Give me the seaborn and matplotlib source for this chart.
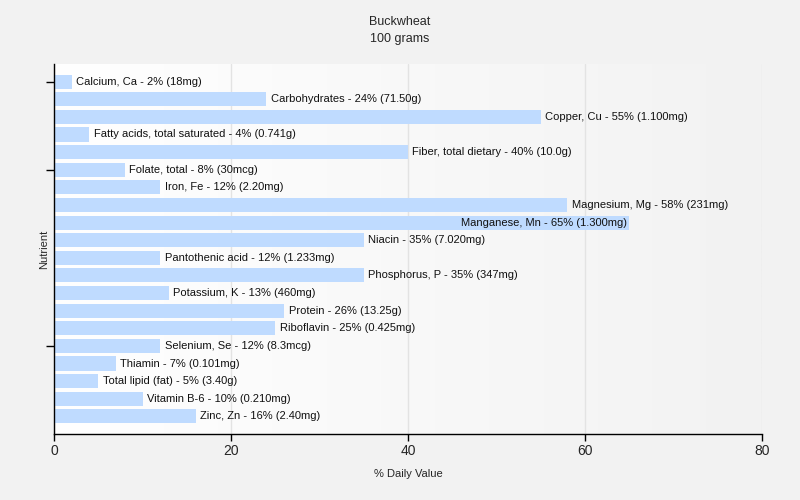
import numpy as np
import pandas as pd
import matplotlib
matplotlib.use("Agg")
import matplotlib.pyplot as plt
from matplotlib.colors import LinearSegmentedColormap
import seaborn as sns

TITLE = "Buckwheat\n100 grams"

nutrients = [
    "Calcium, Ca", "Carbohydrates", "Copper, Cu", "Fatty acids, total saturated",
    "Fiber, total dietary", "Folate, total", "Iron, Fe", "Magnesium, Mg",
    "Manganese, Mn", "Niacin", "Pantothenic acid", "Phosphorus, P",
    "Potassium, K", "Protein", "Riboflavin", "Selenium, Se", "Thiamin",
    "Total lipid (fat)", "Vitamin B-6", "Zinc, Zn",
]
daily_pct = [2, 24, 55, 4, 40, 8, 12, 58, 65, 35, 12, 35, 13, 26, 25, 12, 7, 5, 10, 16]
amounts = [
    "18mg", "71.50g", "1.100mg", "0.741g", "10.0g", "30mcg", "2.20mg", "231mg",
    "1.300mg", "7.020mg", "1.233mg", "347mg", "460mg", "13.25g", "0.425mg",
    "8.3mcg", "0.101mg", "3.40g", "0.210mg", "2.40mg",
]
x_ticks = [0, 20, 40, 60, 80]

BAR_COLOR = "#bfdbff"
BG = "#f2f2f2"

df = pd.DataFrame({"nutrient": nutrients, "pct": daily_pct, "amount": amounts})
df["label"] = df["nutrient"] + " - " + df["pct"].astype(str) + "% (" + df["amount"] + ")"

sns.set_theme(style="white")
plt.rcParams["font.family"] = ["Liberation Sans", "DejaVu Sans"]

fig = plt.figure(figsize=(8, 5), dpi=100, facecolor=BG)
ax = fig.add_axes([0.0675, 0.132, 0.885, 0.740])

sns.barplot(data=df, x="pct", y="nutrient", color=BAR_COLOR, width=0.8,
            saturation=1, linewidth=0, edgecolor="none", ax=ax, zorder=2)

# background gradient white -> grey
grad = np.linspace(0, 1, 256).reshape(1, -1)
cmap = LinearSegmentedColormap.from_list("bg", ["#ffffff", BG])
ax.imshow(grad, cmap=cmap, aspect="auto", extent=[0, 80, 20, -1], zorder=0)

ax.set_xlim(0, 80)
ax.set_ylim(20, -1)
ax.set_xticks(x_ticks)
ax.set_xticklabels([str(t) for t in x_ticks], fontsize=10)
ax.set_yticks([0, 5, 15])
ax.set_yticklabels([])
ax.tick_params(axis="x", bottom=True, direction="out", length=5, width=1,
               color="black", pad=2)
ax.tick_params(axis="y", left=True, direction="out", length=6, width=1, color="black")
ax.grid(axis="x", color="#e3e3e3", linewidth=1, zorder=1)
ax.set_axisbelow(True)

for side in ["top", "right"]:
    ax.spines[side].set_visible(False)
for side in ["left", "bottom"]:
    ax.spines[side].set_color("black")
    ax.spines[side].set_linewidth(1)

ax.set_xlabel("% Daily Value", fontsize=8, labelpad=8)
ax.set_ylabel("Nutrient", fontsize=8, labelpad=-6)
fig.suptitle(TITLE, fontsize=9, y=0.968, linespacing=1.6)

fig.canvas.draw()
renderer = fig.canvas.get_renderer()
ax_right = ax.get_window_extent(renderer).x1
for i, row in df.iterrows():
    t = ax.text(row["pct"] + 0.5, i, row["label"], fontsize=8, va="center",
                ha="left", color="#111111", zorder=3)
    if t.get_window_extent(renderer).x1 > ax_right:
        t.set_x(row["pct"] - 0.3)
        t.set_ha("right")

fig.savefig("out.png", dpi=100, facecolor=BG)
